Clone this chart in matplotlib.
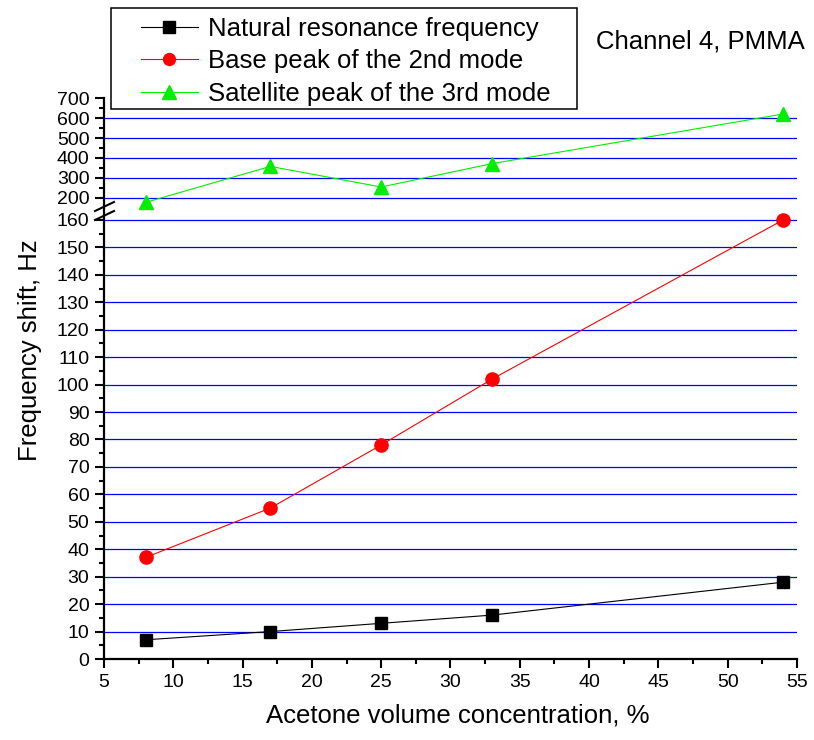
import numpy as np
import matplotlib
matplotlib.use('Agg')
import matplotlib.pyplot as plt
from matplotlib.patches import Rectangle

plt.rcParams['font.family'] = ['Liberation Sans', 'DejaVu Sans']

# Data
concentration = [8, 17, 25, 33, 54]
natural_freq = [7, 10, 13, 16, 28]
base_peak_2nd = [37, 55, 78, 102, 160]
satellite_3rd = [178, 358, 255, 372, 620]

labels = ['Natural resonance frequency',
          'Base peak of the 2nd mode',
          'Satellite peak of the 3rd mode']

# broken y axis: 0..160 stretched, 200..700 compressed
knots_val = [0, 163, 172, 700]
knots_pix = [0, 447.3, 455.4, 561]

def fwd(y):
    return np.interp(y, knots_val, knots_pix)

def inv(p):
    return np.interp(p, knots_pix, knots_val)

major_y = list(range(0, 161, 10)) + list(range(200, 701, 100))
minor_y = list(range(5, 160, 10)) + list(range(250, 700, 100))

fig = plt.figure(figsize=(8.14, 7.40), dpi=100)
ax = fig.add_axes([104 / 814, 1 - 659 / 740, 693 / 814, 561 / 740])
ax.set_yscale('function', functions=(fwd, inv))

# grid lines at the major ticks (none on top)
for v in major_y[1:-1]:
    ax.axhline(v, color='#0000ff', lw=0.9, zorder=1)

l1, = ax.plot(concentration, natural_freq, color='black', lw=0.8,
              marker='s', ms=9, mfc='black', mec='black', zorder=3)
l2, = ax.plot(concentration, base_peak_2nd, color='red', lw=0.8,
              marker='o', ms=9.5, mfc='red', mec='red', zorder=3)
l3, = ax.plot(concentration, satellite_3rd, color='#00ee00', lw=0.8,
              marker='^', ms=10.5, mfc='#00ee00', mec='#00ee00', zorder=3)

ax.set_xlim(5, 55)
ax.set_ylim(0, 700)
ax.set_xticks(range(5, 56, 5))
ax.set_xticks(np.arange(7.5, 55, 5), minor=True)
ax.set_yticks(major_y)
ax.set_yticks(minor_y, minor=True)
ax.set_yticklabels([str(v) for v in major_y])

for s in ['top', 'right']:
    ax.spines[s].set_visible(False)
for s in ['left', 'bottom']:
    ax.spines[s].set_linewidth(1.6)

ax.tick_params(which='major', direction='out', length=6.5, width=1.5,
               labelsize=14, pad=4)
ax.tick_params(which='minor', direction='out', length=3.8, width=1.5)

ax.set_xlabel('Acetone volume concentration, %', fontsize=18.5)
ax.set_ylabel('Frequency shift, Hz', fontsize=18.5)
ax.xaxis.set_label_coords(0.511, -0.079)
ax.yaxis.set_label_coords(-0.089, 0.551)

# break marks on the y axis
for y0, y1 in [(211, 202), (220, 211)]:
    ax.plot([(95 - 104) / 693, (114 - 104) / 693],
            [(659 - y0) / 561, (659 - y1) / 561],
            color='black', lw=1.5, transform=ax.transAxes, clip_on=False)

# legend with its own frame
fig.patches.append(Rectangle((111 / 814, 1 - 109 / 740), 466 / 814, 101 / 740,
                             transform=fig.transFigure, fill=False,
                             edgecolor='black', lw=1.1))
fig.legend([l1, l2, l3], labels, loc='upper left',
           bbox_to_anchor=(141 / 814, 1 - 17 / 740), frameon=False,
           fontsize=18.5, borderpad=0, borderaxespad=0, handlelength=2.2,
           handletextpad=0.4, labelspacing=0.33, markerscale=0.9)

fig.text(596 / 814, 1 - 42 / 740, 'Channel 4, PMMA', fontsize=18.5,
         va='center', ha='left')

fig.savefig('out.png', dpi=100)
